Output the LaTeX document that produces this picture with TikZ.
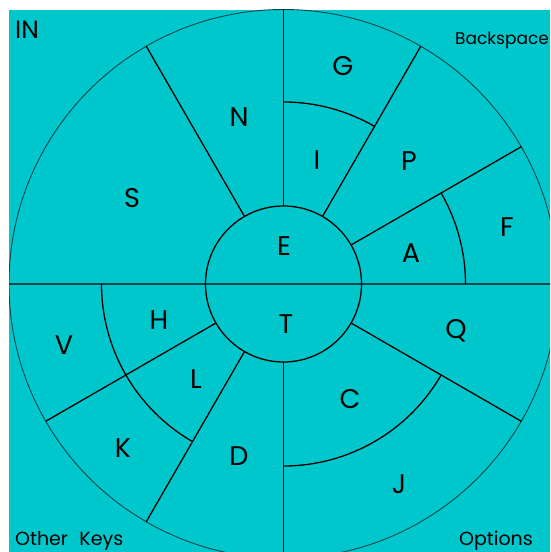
\documentclass[tikz,border=0pt]{standalone}
\usepackage{fontspec}
\setmainfont{Poppins}
\usetikzlibrary{calc}
\definecolor{bgcyan}{RGB}{0,199,204}
\definecolor{darkteal}{RGB}{10,70,75}
\tikzset{
  spoke/.style={line width=1.3pt, black},
  outerc/.style={line width=0.9pt, darkteal},
  midline/.style={line width=1.8pt, darkteal},
  key/.style={font=\fontsize{27}{30}\selectfont, inner sep=0pt, text=black},
  lab/.style={font=\fontsize{19}{22}\selectfont, inner sep=0pt, text=black, anchor=base west},
}
\begin{document}
\begin{tikzpicture}[x=1pt,y=1pt]
\useasboundingbox (0,0) rectangle (550,552);
\fill[white] (0,0) rectangle (550,552);
\fill[bgcyan] (9,0) rectangle (550,542);
\coordinate (O) at (283.5,268);
\begin{scope}
\clip (9,0) rectangle (550,542);
\draw[outerc] (O) circle[radius=274.5];
\draw[midline] ($(O)+(180:300)$) -- ($(O)+(0:300)$);
\foreach \a in {30,60,90,120,210,240,330}
  \draw[spoke] ($(O)+(\a:78)$) -- ($(O)+(\a:274.5)$);
\draw[spoke] ($(O)+(270:78)$) -- ($(O)+(270:300)$);
\draw[spoke] ($(O)+(60:182)$) arc[start angle=60, end angle=90, radius=182];
\draw[spoke] ($(O)+(0:182)$) arc[start angle=0, end angle=30, radius=182];
\draw[spoke] ($(O)+(180:182)$) arc[start angle=180, end angle=240, radius=182];
\draw[spoke] ($(O)+(270:182)$) arc[start angle=270, end angle=330, radius=182];
\draw[spoke] (O) circle[radius=78];
\end{scope}
\node[key] (kG) at (343,486) {G};
\node[key] (kI) at (317,392) {I};
\node[key] (kP) at (409,391) {P};
\node[key] (kF) at (507,325) {F};
\node[key] (kA) at (411,299) {A};
\node[key] (kE) at (284,306) {E};
\node[key] (kT) at (286,228) {T};
\node[key] (kQ) at (456,221) {Q};
\node[key] (kC) at (350,153) {C};
\node[key] (kJ) at (399,68) {J};
\node[key] (kD) at (239,96) {D};
\node[key] (kK) at (123,104) {K};
\node[key] (kL) at (196,173) {L};
\node[key] (kH) at (159,232) {H};
\node[key] (kV) at (64,207) {V};
\node[key] (kS) at (132,354) {S};
\node[key] (kN) at (239,435) {N};
\node[lab, font=\fontsize{25}{28}\selectfont] (lIN) at (15,513) {IN};
\node[lab, font=\fontsize{17}{20}\selectfont] (lBack) at (455,507) {Backspace};
\node[lab] (lOther) at (15,6) {Other\hspace{0.6em}Keys};
\node[lab] (lOpt) at (459,6) {Options};
\end{tikzpicture}
\end{document}
